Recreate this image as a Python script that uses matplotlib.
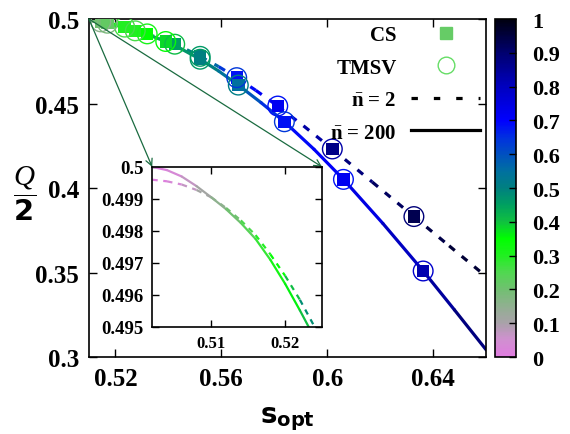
import numpy as np
import matplotlib
matplotlib.use('Agg')
import matplotlib.pyplot as plt
from matplotlib.collections import LineCollection
from matplotlib.colors import LinearSegmentedColormap, Normalize
from matplotlib.cm import ScalarMappable
from matplotlib.lines import Line2D
from matplotlib.font_manager import FontProperties

plt.rcParams['mathtext.fontset'] = 'custom'
plt.rcParams['mathtext.rm'] = 'Liberation Serif'
plt.rcParams['mathtext.it'] = 'Liberation Serif:italic'
plt.rcParams['mathtext.bf'] = 'Liberation Serif:bold'
plt.rcParams['mathtext.sf'] = 'DejaVu Sans:bold'

# ---------------- data ----------------
# n-bar = 200 (solid)
s_n200 = [0.502, 0.504, 0.506, 0.508, 0.510, 0.512, 0.514, 0.516, 0.518, 0.520,
          0.522, 0.524, 0.528, 0.533, 0.539, 0.545, 0.552, 0.559, 0.5664, 0.575,
          0.5838, 0.595, 0.6061, 0.621, 0.6362, 0.648, 0.660]
Q_n200 = [0.5000, 0.4999, 0.4997, 0.4994, 0.49905, 0.49868, 0.49825, 0.49775, 0.4971, 0.49635,
          0.49552, 0.49465, 0.4928, 0.4903, 0.4867, 0.4822, 0.4762, 0.4692, 0.4609, 0.4505,
          0.4392, 0.4229, 0.4051, 0.3790, 0.3509, 0.3279, 0.3042]
c_n200 = [0.00, 0.02, 0.05, 0.09, 0.13, 0.18, 0.22, 0.26, 0.30, 0.34,
          0.38, 0.42, 0.42, 0.42, 0.43, 0.45, 0.48, 0.52, 0.56, 0.62,
          0.68, 0.70, 0.72, 0.77, 0.82, 0.86, 0.90]

# n-bar = 2 (dashed)
s_n2 = [0.502, 0.504, 0.506, 0.508, 0.510, 0.512, 0.514, 0.516, 0.518, 0.520,
        0.522, 0.524, 0.528, 0.532, 0.5365, 0.5415, 0.547, 0.552, 0.559, 0.5658,
        0.573, 0.5813, 0.591, 0.6019, 0.617, 0.6327, 0.646, 0.660]
Q_n2 = [0.4996, 0.49955, 0.49945, 0.49928, 0.49905, 0.49872, 0.49833, 0.49787, 0.49727, 0.4966,
        0.49585, 0.4950, 0.4932, 0.4912, 0.4887, 0.4856, 0.4818, 0.4779, 0.4718, 0.4653,
        0.4578, 0.4485, 0.4368, 0.4231, 0.4035, 0.3831, 0.3658, 0.3476]
c_n2 = [0.00, 0.02, 0.05, 0.09, 0.13, 0.18, 0.23, 0.28, 0.32, 0.37,
        0.44, 0.52, 0.44, 0.42, 0.43, 0.45, 0.49, 0.52, 0.60, 0.68,
        0.70, 0.73, 0.80, 0.87, 0.90, 0.93, 0.95, 0.97]

# markers (CS squares and TMSV circles coincide)
m_s_n2 = [0.5145, 0.5235, 0.532, 0.5424, 0.552, 0.5658, 0.5813, 0.6019, 0.6327]
m_Q_n2 = [0.4983, 0.4952, 0.4912, 0.4851, 0.4779, 0.4653, 0.4485, 0.4231, 0.3831]
m_c_n2 = [0.20, 0.30, 0.35, 0.45, 0.50, 0.68, 0.72, 0.87, 0.93]
m_s_n200 = [0.517, 0.5275, 0.539, 0.552, 0.5664, 0.5838, 0.6061, 0.6362]
m_Q_n200 = [0.4975, 0.4930, 0.4867, 0.4762, 0.4609, 0.4392, 0.4051, 0.3509]
m_c_n200 = [0.22, 0.30, 0.38, 0.50, 0.55, 0.68, 0.72, 0.82]

# colorbar palette
cb_pos = [0.0, 0.05, 0.1, 0.15, 0.2, 0.25, 0.3, 0.35, 0.4, 0.45, 0.5, 0.55, 0.6, 0.65, 0.7, 0.8, 0.9, 1.0]
cb_col = ['#e07ce0', '#d090d0', '#a8a2a8', '#90b090', '#70c070', '#50d850', '#20f020', '#00ff00',
          '#10c040', '#00a060', '#008080', '#0070a0', '#0050c0', '#0030e0', '#0000ff', '#0000c0',
          '#000070', '#000010']
cb_ticks = [0, 0.1, 0.2, 0.3, 0.4, 0.5, 0.6, 0.7, 0.8, 0.9, 1]
cb_ticklabels = ['0', '0.1', '0.2', '0.3', '0.4', '0.5', '0.6', '0.7', '0.8', '0.9', '1']

x_ticks = [0.52, 0.56, 0.60, 0.64]
x_ticklabels = ['0.52', '0.56', '0.6', '0.64']
y_ticks = [0.30, 0.35, 0.40, 0.45, 0.50]
y_ticklabels = ['0.3', '0.35', '0.4', '0.45', '0.5']
ins_x_ticks = [0.51, 0.52]
ins_x_ticklabels = ['0.51', '0.52']
ins_y_ticks = [0.495, 0.496, 0.497, 0.498, 0.499, 0.500]
ins_y_ticklabels = ['0.495', '0.496', '0.497', '0.498', '0.499', '0.5']

legend_labels = ['CS', 'TMSV', r'$\bar{\mathbf{n}}$ = 2', r'$\bar{\mathbf{n}}$ = 200']

# ---------------- figure ----------------
cmap = LinearSegmentedColormap.from_list('gp', list(zip(cb_pos, cb_col)))
norm = Normalize(0, 1)

serif_b = dict(family='Liberation Serif', weight='bold')

fig = plt.figure(figsize=(5.7, 4.35), dpi=100)
ax = fig.add_axes([0.156, 0.177, 0.697, 0.777])
cax = fig.add_axes([0.869, 0.177, 0.036, 0.777])
axins = fig.add_axes([0.267, 0.246, 0.298, 0.368])


def grad_line(a, s, q, c, ls, lw, cap):
    pts = np.column_stack([s, q])
    segs = np.stack([pts[:-1], pts[1:]], axis=1)
    cc = np.asarray(c)
    cm = 0.5 * (cc[:-1] + cc[1:])
    lc = LineCollection(segs, colors=cmap(norm(cm)), linestyles=ls,
                        linewidths=lw, capstyle=cap, joinstyle='round')
    a.add_collection(lc)
    return lc


grad_line(ax, s_n2, Q_n2, c_n2, (0, (2.3, 2.8)), 2.3, 'butt')
grad_line(ax, s_n200, Q_n200, c_n200, 'solid', 2.3, 'round')

for ms, mq, mc in [(m_s_n2, m_Q_n2, m_c_n2), (m_s_n200, m_Q_n200, m_c_n200)]:
    ax.scatter(ms, mq, c=mc, cmap=cmap, norm=norm, marker='s', s=80, linewidths=0, zorder=3)
    ax.scatter(ms, mq, facecolors='none', edgecolors=cmap(norm(np.asarray(mc) - 0.04)),
               marker='o', s=200, linewidths=1.0, zorder=4)

ax.set_xlim(0.51, 0.66)
ax.set_ylim(0.30, 0.50)
ax.set_xticks(x_ticks)
ax.set_xticklabels(x_ticklabels)
ax.set_yticks(y_ticks)
ax.set_yticklabels(y_ticklabels)
ax.tick_params(direction='in', length=6, width=1, top=True, right=True, pad=7)
for lab in ax.get_xticklabels() + ax.get_yticklabels():
    lab.set_fontproperties(FontProperties(size=18, **serif_b))
for sp in ax.spines.values():
    sp.set_linewidth(1.2)

ax.set_ylabel(r'$\dfrac{Q}{\mathsf{2}}$', rotation=0, fontsize=21, ha='center', va='center')
ax.yaxis.set_label_coords(-0.162, 0.485)
ax.set_xlabel(r'$\mathsf{s}_{\mathsf{opt}}$', fontsize=20, va='center')
ax.xaxis.set_label_coords(0.5, -0.18)

# legend
h_cs = Line2D([], [], ls='none', marker='s', ms=8, mfc='#66cc66', mec='#66cc66')
h_tm = Line2D([], [], ls='none', marker='o', ms=12, mfc='none', mec='#66dd66', mew=1)
h_2 = Line2D([], [], color='k', ls=(0, (2.0, 5.0)), lw=2.3)
h_200 = Line2D([], [], color='k', ls='-', lw=2.3)
ax.legend([h_cs, h_tm, h_2, h_200], legend_labels, loc='upper right', frameon=False,
          markerfirst=False, prop=FontProperties(size=15, **serif_b),
          handlelength=3.3, handletextpad=0.7, labelspacing=0.6,
          borderaxespad=0.0, borderpad=0.3)

# inset
grad_line(axins, s_n2, Q_n2, c_n2, (0, (2.5, 2.5)), 1.6, 'butt')
grad_line(axins, s_n200, Q_n200, c_n200, 'solid', 1.6, 'round')
axins.set_xlim(0.502, 0.525)
axins.set_ylim(0.495, 0.500)
axins.set_xticks(ins_x_ticks)
axins.set_xticklabels(ins_x_ticklabels)
axins.set_yticks(ins_y_ticks)
axins.set_yticklabels(ins_y_ticklabels)
axins.tick_params(direction='in', length=5, width=1, top=True, right=True, pad=6)
for lab in axins.get_xticklabels():
    lab.set_fontproperties(FontProperties(size=12, **serif_b))
for lab in axins.get_yticklabels():
    lab.set_fontproperties(FontProperties(size=13.5, **serif_b))
for sp in axins.spines.values():
    sp.set_linewidth(1.2)

# arrows from main corner to inset corners
for corner in [(0, 1), (1, 1)]:
    ax.annotate('', xy=corner, xycoords=axins.transAxes, xytext=(0.51, 0.50),
                textcoords='data',
                arrowprops=dict(arrowstyle='->', color='#1a6b40', lw=0.9,
                                shrinkA=0, shrinkB=0, mutation_scale=12),
                annotation_clip=False, zorder=5)

# colorbar
sm = ScalarMappable(norm=norm, cmap=cmap)
cb = fig.colorbar(sm, cax=cax, ticks=cb_ticks)
cb.set_ticklabels(cb_ticklabels)
cax.tick_params(direction='in', length=5, width=1, right=True, left=False, pad=12)
for lab in cax.get_yticklabels():
    lab.set_fontproperties(FontProperties(size=16, **serif_b))
cb.outline.set_linewidth(1.2)

fig.savefig('out.png', dpi=100)
